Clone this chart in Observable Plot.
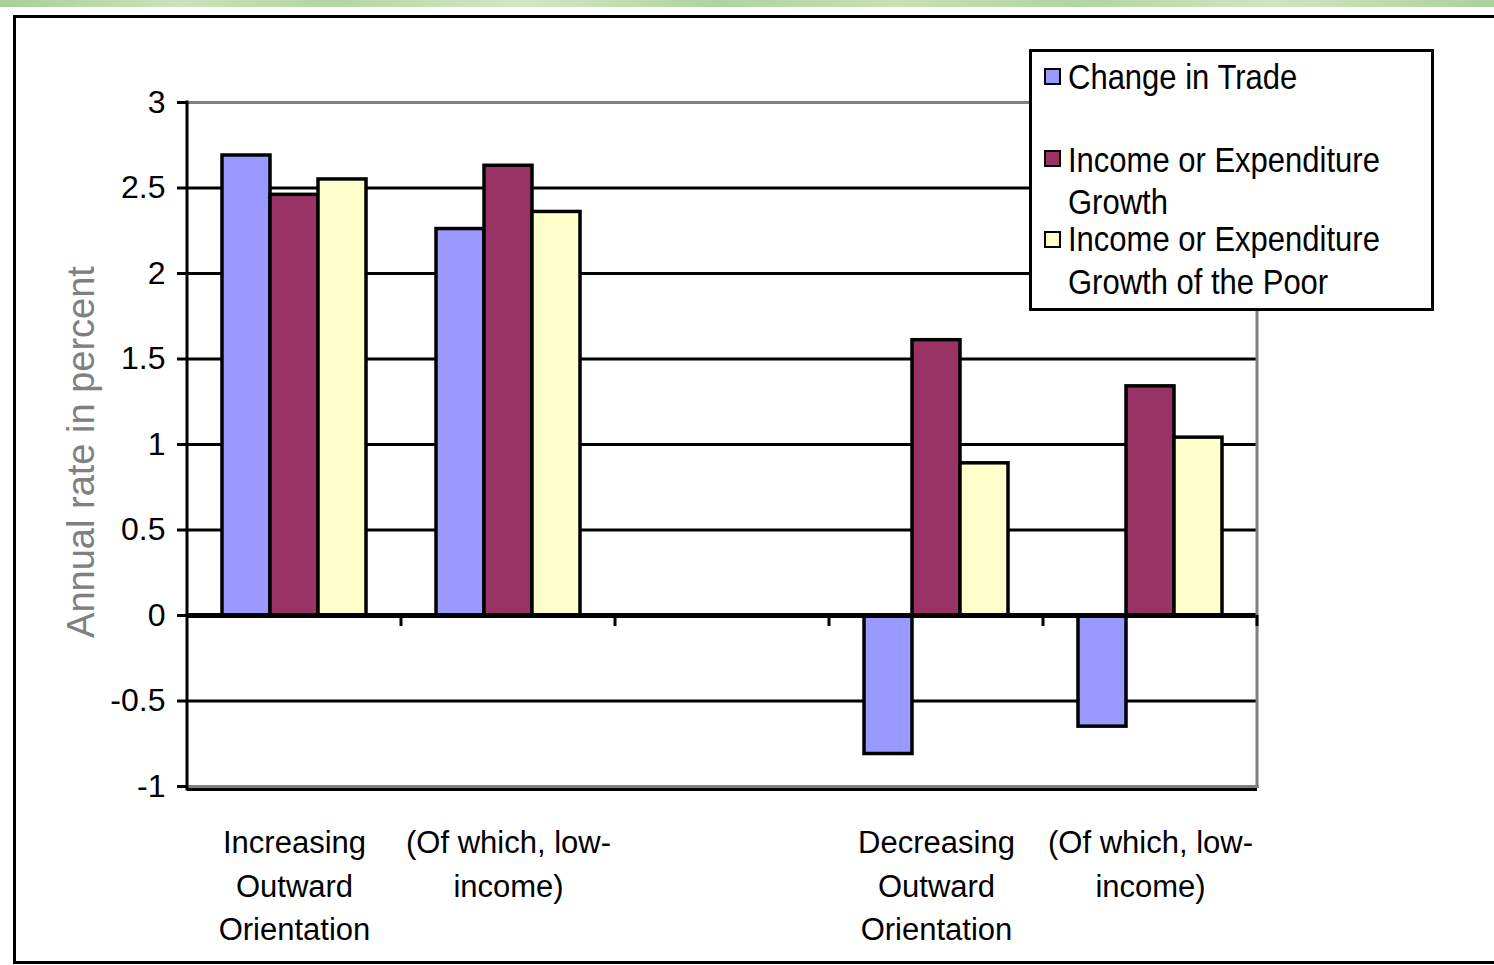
<!DOCTYPE html>
<html>
<head>
<meta charset="utf-8">
<script src="https://cdn.jsdelivr.net/npm/d3@7"></script>
<script src="https://cdn.jsdelivr.net/npm/@observablehq/plot@0.6"></script>
<style>
  html, body { margin: 0; padding: 0; background: #fff; overflow: hidden; }
  #page { position: relative; width: 1494px; height: 965px; overflow: hidden; background: #fff; }
  #stripe { position: absolute; left: 0; top: 0; width: 1494px; height: 7px;
    background: linear-gradient(90deg, #a8cf98 0%, #c9e3bb 12%, #b3d6a3 22%, #d2e8c4 35%, #aed3a0 48%, #c6e1b6 60%, #b1d5a2 72%, #cfe6c1 85%, #acd19d 100%); }
  #frame { position: absolute; left: 13px; top: 15px; width: 1500px; height: 943px; border: 3px solid #000; background: #fff; }
  #chart { position: absolute; left: 0; top: 0; }
  #ylabel { position: absolute; left: 81px; top: 452px; transform: translate(-50%, -50%) rotate(-90deg);
    font-family: "Liberation Sans", Arial, sans-serif; font-size: 38px; color: #808080; white-space: nowrap; }
  #legend { position: absolute; left: 1029px; top: 49px; width: 399px; height: 256px; border: 3px solid #000; background: #fff;
    font-family: "Liberation Sans", Arial, sans-serif; font-size: 31px; color: #000; }
  .sw { position: absolute; left: 12px; width: 13px; height: 13px; border: 2px solid #000; }
  .lt { position: absolute; left: 36px; line-height: 41px; white-space: pre; transform: scaleY(1.15); transform-origin: 0 0; }
</style>
</head>
<body>
<div id="page">
  <div id="stripe"></div>
  <div id="frame"></div>
  <div id="chart"></div>
  <div id="ylabel"></div>
  <div id="legend"></div>
</div>
<script>
// ---- data ----
const categoryKeys = ["inc", "incLow", "gap", "dec", "decLow"];
const categoryLabels = ["Increasing\nOutward\nOrientation", "(Of which, low-\nincome)", "", "Decreasing\nOutward\nOrientation", "(Of which, low-\nincome)"];
const series = ["Change in Trade", "Income or Expenditure Growth", "Income or Expenditure Growth of the Poor"];
const legendLabels = ["Change in Trade\n", "Income or Expenditure\nGrowth", "Income or Expenditure\nGrowth of the Poor"];
const seriesColors = ["#9999ff", "#993366", "#ffffcc"];
const changeInTrade = [2.69, 2.26, null, -0.81, -0.65];
const incomeGrowth = [2.46, 2.63, null, 1.61, 1.34];
const poorGrowth = [2.55, 2.36, null, 0.89, 1.04];
const yTicks = [-1, -0.5, 0, 0.5, 1, 1.5, 2, 2.5, 3];
const yTickLabels = ["-1", "-0.5", "0", "0.5", "1", "1.5", "2", "2.5", "3"];
const gridValues = [-0.5, 0.5, 1, 1.5, 2, 2.5];
const yLabel = "Annual rate in percent";

// ---- table ----
const seriesValues = [changeInTrade, incomeGrowth, poorGrowth];
const rows = [];
categoryKeys.forEach((c, i) => {
  series.forEach((s, j) => rows.push({category: c, series: s, value: seriesValues[j][i]}));
});
const labelOf = new Map(categoryKeys.map((k, i) => [k, categoryLabels[i]]));
const tickLabelOf = new Map(yTicks.map((t, i) => [t, yTickLabels[i]]));

const font = '"Liberation Sans", Arial, sans-serif';

const chart = Plot.plot({
  width: 1494,
  height: 965,
  marginLeft: 185,
  marginRight: 236,
  marginTop: 102,
  marginBottom: 179,
  style: {fontFamily: font, fontSize: "32px", background: "transparent", overflow: "visible", color: "#000"},
  fx: {domain: categoryKeys, padding: 0, label: null, axis: null},
  x: {domain: series, paddingInner: 0, paddingOuter: 0.72, axis: null},
  y: {domain: [-1, 3], axis: null},
  color: {domain: series, range: seriesColors},
  marks: [
    Plot.ruleY(gridValues, {stroke: "#000", strokeWidth: 3}),
    Plot.frame({anchor: "top", stroke: "#808080", strokeWidth: 3}),
    Plot.frame({anchor: "bottom", stroke: "#808080", strokeWidth: 3}),
    Plot.ruleY([-1], {stroke: "#000", strokeWidth: 3, dy: 3}),
    Plot.barY(rows, {fx: "category", x: "series", y: "value", fill: "series", stroke: "#000", strokeWidth: 3.5}),
    Plot.ruleY([0], {stroke: "#000", strokeWidth: 5}),
    Plot.axisY({ticks: yTicks, tickFormat: d => tickLabelOf.get(d), tickSize: 10, tickPadding: 12, strokeWidth: 3, fontSize: 32, label: null}),
    Plot.axisFx({anchor: "bottom", tickFormat: k => labelOf.get(k), tickSize: 0, tickPadding: 36, lineHeight: 1.4, fontSize: 31, label: null})
  ]
});
document.getElementById("chart").appendChild(chart);

// plot-area edges and category boundary ticks, placed with the library's scales
const fxScale = chart.scale("fx");
const yScale = chart.scale("y");
const y0 = yScale.apply(0);
const yTop = yScale.apply(3);
const yBot = yScale.apply(-1);
const xLeft = fxScale.apply(categoryKeys[0]);
const xRight = fxScale.apply(categoryKeys[categoryKeys.length - 1]) + fxScale.bandwidth;
const svg = d3.select(chart);
const g = svg.append("g").attr("stroke-width", 3);
g.append("line").attr("stroke", "#808080").attr("x1", xRight).attr("x2", xRight).attr("y1", yTop).attr("y2", yBot);
g.append("line").attr("stroke", "#000").attr("x1", xLeft).attr("x2", xLeft).attr("y1", yTop - 1.5).attr("y2", yBot + 4.5);
categoryKeys.forEach(k => {
  const xr = fxScale.apply(k) + fxScale.bandwidth;
  g.append("line").attr("stroke", "#000").attr("x1", xr).attr("x2", xr).attr("y1", y0).attr("y2", y0 + 11);
});

// y label
document.getElementById("ylabel").textContent = yLabel;

// legend
const legend = document.getElementById("legend");
const swTops = [16, 98, 179];
const textTops = [5, 88, 166];
series.forEach((s, i) => {
  const sw = document.createElement("div");
  sw.className = "sw";
  sw.style.top = swTops[i] + "px";
  sw.style.background = seriesColors[i];
  legend.appendChild(sw);
  const t = document.createElement("div");
  t.className = "lt";
  t.style.top = textTops[i] + "px";
  t.style.lineHeight = (i === 2 ? 37 : 36) + "px";
  t.textContent = legendLabels[i];
  legend.appendChild(t);
});
</script>
</body>
</html>
